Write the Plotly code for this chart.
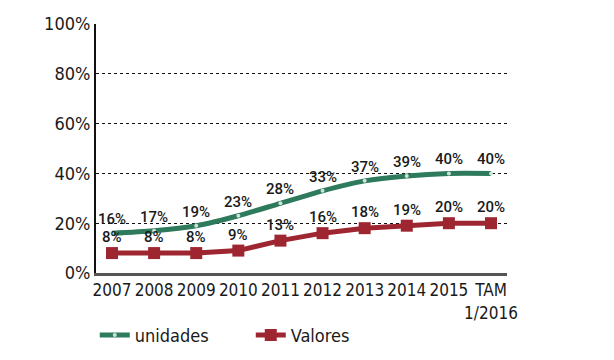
import plotly.graph_objects as go

categories = ["2007", "2008", "2009", "2010", "2011", "2012", "2013", "2014", "2015", "TAM<br>1/2016"]
unidades = [16, 17, 19, 23, 28, 33, 37, 39, 40, 40]
valores = [8, 8, 8, 9, 13, 16, 18, 19, 20, 20]
y_ticks = [0, 20, 40, 60, 80, 100]
y_tick_labels = ["0%", "20%", "40%", "60%", "80%", "100%"]

GREEN = "#2e7a5c"
RED = "#9e2630"
tick_font = dict(family="DejaVu Sans Condensed", size=17, color="#1a1a1a")
label_font = dict(family="Roboto, DejaVu Sans, sans-serif", size=15, color="#1a1a1a", weight=500)

fig = go.Figure()
fig.add_trace(go.Scatter(
    x=categories, y=unidades, name="unidades",
    mode="lines+markers",
    line=dict(color=GREEN, width=5, shape="spline", smoothing=0.8),
    marker=dict(color="#cfe3da", size=4, line=dict(width=0)),
))
fig.add_trace(go.Scatter(
    x=categories, y=valores, name="Valores",
    mode="lines+markers",
    line=dict(color=RED, width=5),
    marker=dict(color=RED, size=12, symbol="square"),
))

annotations = []
for i, v in enumerate(unidades):
    annotations.append(dict(x=i, y=v, xref="x", yref="y", text=f"{v}%", showarrow=False,
                            yanchor="bottom", yshift=3, font=label_font))
for i, v in enumerate(valores):
    annotations.append(dict(x=i, y=v, xref="x", yref="y", text=f"{v}%", showarrow=False,
                            yanchor="bottom", yshift=5, font=label_font))

fig.update_layout(
    width=614, height=360,
    margin=dict(l=88, r=115, t=16, b=95, autoexpand=False),
    paper_bgcolor="white", plot_bgcolor="white",
    showlegend=True,
    annotations=annotations,
    legend=dict(orientation="h", x=-0.003, y=-0.25, xanchor="left", yanchor="middle",
                font=dict(family="DejaVu Sans Condensed", size=18, color="#1a1a1a"),
                entrywidth=111, itemwidth=30, bgcolor="rgba(0,0,0,0)"),
    xaxis=dict(type="category", range=[-0.38, 9.38], showgrid=False, automargin=False,
               showline=True, linecolor="#555555", linewidth=3,
               ticks="", tickfont=tick_font, tickangle=0, fixedrange=True),
    yaxis=dict(range=[0, 100], tickvals=y_ticks, ticktext=y_tick_labels, automargin=False,
               showgrid=True, gridcolor="#111111", griddash="dot", gridwidth=1.3,
               showline=True, linecolor="#111111", linewidth=2,
               ticks="", tickfont=dict(family="DejaVu Sans Condensed", size=18, color="#1a1a1a"),
               zeroline=False, fixedrange=True),
)

fig.write_html("out.html")
